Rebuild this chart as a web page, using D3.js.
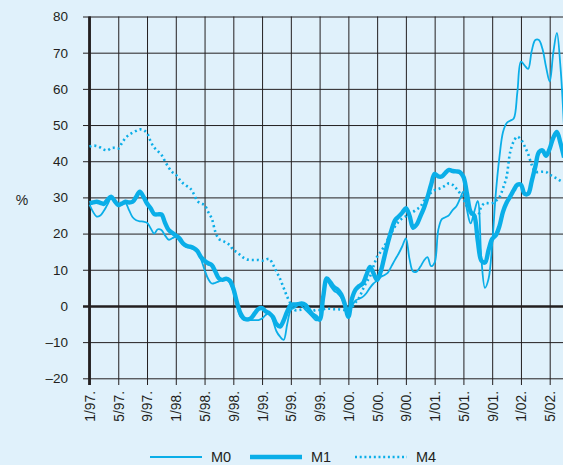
<!DOCTYPE html>
<html><head><meta charset="utf-8">
<script src="https://cdn.jsdelivr.net/npm/d3@7"></script>
<style>
html,body{margin:0;padding:0;background:#e0f1fb;}
svg{display:block;}
text{font-family:"Liberation Sans",Arial,sans-serif;fill:#231f20;}
</style></head>
<body>
<svg id="chart" width="563" height="465"></svg>
<script>
// Half-month steps starting January 1997 (index in months from 1/97)
const monthIndex = d3.range(133).map(i => i / 2);

const tickLabels = ["1/97.","5/97.","9/97.","1/98.","5/98.","9/98.","1/99.","5/99.","9/99.","1/00.","5/00.","9/00.","1/01.","5/01.","9/01.","1/02.","5/02."];
const tickMonths = [0,4,8,12,16,20,24,28,32,36,40,44,48,52,56,60,64];
const yTicks = [-20,-10,0,10,20,30,40,50,60,70,80];

const seriesNames = ["M0","M1","M4"];

const m0 = [
 28.0,26.0,24.7,25.0,26.3,28.0,29.7,28.8,
 27.9,28.0,28.4,26.5,24.5,23.7,23.4,23.3,
 23.0,21.5,20.0,21.2,21.0,19.5,18.3,18.7,
 19.1,18.0,17.0,16.3,16.0,15.7,15.4,13.0,
 10.0,7.5,6.2,6.4,6.8,7.2,7.5,6.5,
 4.0,0.0,-3.0,-3.9,-4.0,-3.9,-3.9,-3.9,
 -3.5,-2.5,-2.0,-4.0,-7.0,-8.5,-9.4,-5.0,
 -1.1,-0.5,0.2,0.0,-1.0,-2.0,-3.0,-4.0,
 -3.5,2.0,7.2,5.5,4.2,3.5,2.3,0.0,
 -2.0,0.0,1.5,2.0,2.5,3.5,5.0,6.2,
 7.0,8.0,8.5,9.2,11.0,12.8,14.5,16.5,
 18.7,13.0,9.5,9.5,10.8,12.5,13.5,11.0,
 12.0,21.0,24.0,24.5,25.1,26.5,27.5,29.5,
 31.6,26.5,22.8,26.0,29.0,13.0,5.0,7.5,
 17.0,31.0,41.0,48.0,50.5,51.2,51.8,59.0,
 67.5,66.5,65.5,70.5,73.5,73.5,71.0,66.0,
 62.0,70.0,75.5,66.0,49.0
];

const m1 = [
 28.4,28.6,28.8,28.5,28.2,29.3,30.2,29.0,
 27.9,28.3,28.8,28.6,28.8,30.2,31.6,30.2,
 28.3,27.0,25.4,25.3,25.3,23.0,21.0,20.2,
 19.5,18.7,17.3,16.6,16.4,16.0,15.2,13.5,
 12.5,11.8,11.3,9.5,7.6,7.2,7.5,7.0,
 4.8,1.0,-2.0,-3.5,-3.7,-3.3,-2.0,-0.8,
 -0.6,-1.5,-2.0,-3.0,-5.0,-5.7,-4.0,-1.5,
 0.3,0.4,0.5,0.7,0.3,-1.0,-2.3,-3.0,
 -3.8,2.5,7.6,6.5,5.2,4.5,3.2,0.5,
 -3.0,2.0,4.5,5.5,6.2,8.5,10.8,9.0,
 7.2,9.5,13.5,17.5,21.0,23.7,24.7,25.8,
 27.0,25.0,21.6,22.5,24.7,27.0,30.0,33.5,
 36.5,35.8,35.8,36.8,37.6,37.3,37.2,37.0,
 35.7,31.0,26.0,25.0,18.0,12.5,12.0,15.5,
 18.5,19.5,22.0,26.0,28.5,30.2,32.0,33.5,
 33.5,31.0,31.0,34.5,38.5,42.5,43.0,41.5,
 43.5,46.5,48.1,45.0,41.0
];

const m4 = [
 44.0,44.3,44.2,43.8,43.2,43.0,43.6,43.7,
 43.5,45.0,46.4,47.3,47.9,48.4,48.8,48.6,
 47.8,45.5,43.8,42.8,41.8,40.0,38.3,37.0,
 36.3,35.0,33.9,33.2,32.5,31.0,29.0,28.3,
 27.9,26.0,24.2,20.5,18.5,18.0,17.5,16.8,
 15.5,14.8,14.0,13.2,12.8,12.7,12.7,12.7,
 12.5,12.8,13.0,11.5,9.5,7.5,5.0,2.5,
 0.5,-1.1,-1.2,-1.0,-0.8,-1.5,-1.4,-1.1,
 -1.1,-0.9,-0.7,-0.8,-0.9,-0.9,-1.0,-1.1,
 -0.8,-0.3,1.0,2.3,4.5,6.5,8.1,11.0,
 13.6,15.0,16.5,18.5,20.3,22.0,23.3,24.2,
 24.8,25.5,26.0,26.7,27.4,29.0,30.3,31.3,
 32.0,32.3,32.7,33.3,33.9,33.5,32.5,31.2,
 29.5,27.4,25.5,24.8,24.9,27.5,28.4,28.4,
 28.4,29.0,30.0,32.5,35.7,42.5,45.5,46.8,
 46.0,44.2,42.0,39.0,37.1,37.0,37.1,37.0,
 36.3,35.7,35.2,34.6,34.2
];

const W = 563, H = 465;
const color = "#0aaee8";
const svg = d3.select("#chart");

svg.append("rect").attr("width", W).attr("height", H).attr("fill", "#e0f1fb");

const x = d3.scaleLinear().domain([0, 64]).range([89.5, 549.7]);
const y = d3.scaleLinear().domain([-20, 80]).range([378.3, 16.5]);

const gridColor = "#231f20";
const bottomY = 385;

// horizontal grid + y labels
const yAxis = d3.axisLeft(y).tickValues(yTicks)
  .tickSize(-(W - 83)).tickPadding(15)
  .tickFormat(d => d < 0 ? "\u2013" + Math.abs(d) : String(d));
const gy = svg.append("g").attr("transform", "translate(83,0)").call(yAxis);
gy.select(".domain").remove();
gy.selectAll(".tick line").attr("stroke", gridColor)
  .attr("stroke-width", d => d === 0 ? 2.6 : 1);
gy.selectAll(".tick text").attr("font-size", 13.5).attr("fill", "#231f20")
  .style("font-family", "'Liberation Sans',Arial,sans-serif");

// vertical grid + x labels
const xAxis = d3.axisBottom(x).tickValues(tickMonths)
  .tickSize(-(bottomY - 16.5))
  .tickFormat((d, i) => tickLabels[i]);
const gx = svg.append("g").attr("transform", `translate(0,${bottomY})`).call(xAxis);
gx.select(".domain").remove();
gx.selectAll(".tick line").attr("stroke", gridColor).attr("stroke-width", 1);
gx.selectAll(".tick text")
  .attr("transform", "rotate(-90)")
  .attr("text-anchor", "end")
  .attr("x", -6).attr("y", 0).attr("dy", "0.36em")
  .attr("font-size", 13.8).attr("fill", "#231f20")
  .style("font-family", "'Liberation Sans',Arial,sans-serif");

// left axis line (thick)
svg.append("line").attr("x1", x(0)).attr("x2", x(0))
  .attr("y1", 16.5).attr("y2", bottomY)
  .attr("stroke", gridColor).attr("stroke-width", 2.8);

// % label
svg.append("text").attr("x", 22).attr("y", 205).attr("text-anchor", "middle")
  .attr("font-size", 14).text("%");

// series
const line = d3.line().x((d, i) => x(monthIndex[i])).y(d => y(d))
  .curve(d3.curveCatmullRom.alpha(0.5));

const plot = svg.append("g");
plot.append("path").datum(m4).attr("d", line).attr("fill", "none")
  .attr("stroke", color).attr("stroke-width", 2.6).attr("stroke-dasharray", "2,3");
plot.append("path").datum(m0).attr("d", line).attr("fill", "none")
  .attr("stroke", color).attr("stroke-width", 1.8);
plot.append("path").datum(m1).attr("d", line).attr("fill", "none")
  .attr("stroke", color).attr("stroke-width", 4.4).attr("stroke-linejoin", "round");

// legend
const legend = [
  {name: seriesNames[0], x1: 150, width: 1.8, dash: null},
  {name: seriesNames[1], x1: 250, width: 4.4, dash: null},
  {name: seriesNames[2], x1: 355, width: 2.6, dash: "2,2.7"}
];
const lg = svg.append("g");
legend.forEach(l => {
  lg.append("line").attr("x1", l.x1).attr("x2", l.x1 + 52)
    .attr("y1", 457).attr("y2", 457)
    .attr("stroke", color).attr("stroke-width", l.width)
    .attr("stroke-dasharray", l.dash);
  lg.append("text").attr("x", l.x1 + 61).attr("y", 462)
    .attr("font-size", 14.5).text(l.name);
});
</script>
</body></html>
